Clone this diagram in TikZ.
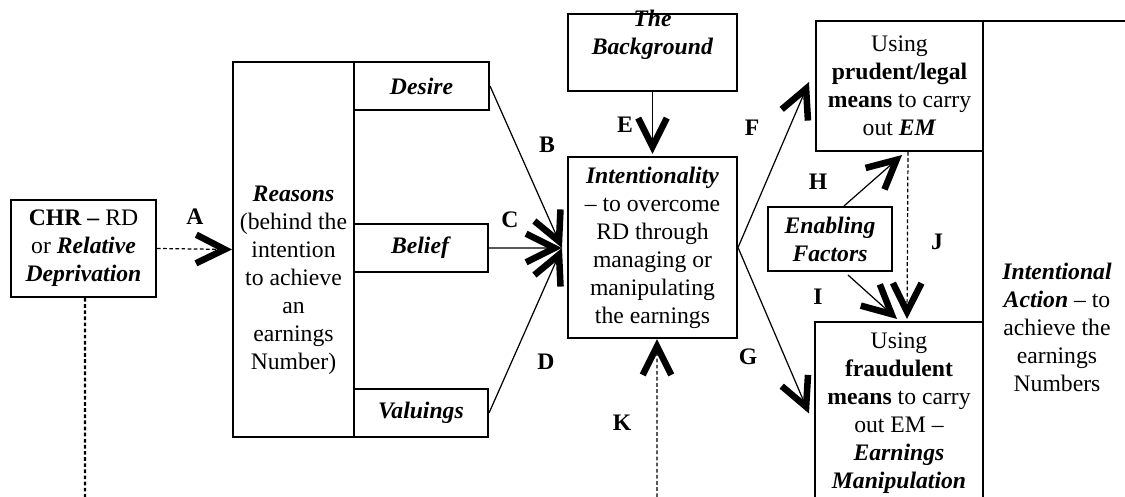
\documentclass[tikz,border=0pt]{standalone}
\usepackage{fontspec}
\setmainfont{Liberation Serif}
\usetikzlibrary{arrows.meta,calc}

\begin{document}
\begin{tikzpicture}[x=0.49pt,y=-0.49pt,
  txt/.style={font=\fontsize{11.6}{13.7}\selectfont},
  box/.style={txt,draw,line width=1pt,inner sep=0pt,align=center},
  plain/.style={txt,inner sep=0pt,align=center},
  sz/.style 2 args={minimum width=#1*0.49pt,minimum height=#2*0.49pt},
  lbl/.style={inner sep=0pt,font=\fontsize{11.6}{13.7}\selectfont\bfseries},
  link/.style={line width=0.6pt,-{Straight Barb[length=14pt,width=14pt,line width=3.2pt,sharp]}},
  dots/.style={line width=1pt,dash pattern=on 1.8pt off 1.2pt},
]
\useasboundingbox (0,0) rectangle (1125,497);
\clip (0,0) rectangle (1125,497);

% boxes
\node[box,sz={145}{97}] (chr) at (83.5,248.5)
  {\textbf{CHR –} RD\\or \textbf{\textit{Relative}}\\\textbf{\textit{Deprivation}}};
\node[box,sz={121}{375}] (reasons) at (293.5,249.5) {};
\node[plain] (reasonstext) at (293.5,280)
  {\textbf{\textit{Reasons}}\\(behind the\\intention\\to achieve\\an\\earnings\\Number)};
\node[box,sz={135}{48}] (desire) at (421.5,86) {\textbf{\textit{Desire}}};
\node[box,sz={134}{48}] (belief) at (421,248) {\textbf{\textit{Belief}}};
\node[box,sz={134}{48}] (valuings) at (421,413) {\textbf{\textit{Valuings}}};
\node[box,sz={169}{77}] (bgbox) at (652.5,52.5) {};
\node[plain] (bgtext) at (652.5,35) {\textbf{\textit{The}}\\\textbf{\textit{Background}}};
\node[box,sz={169}{181}] (intent) at (652.5,247.5)
  {\textbf{\textit{Intentionality}}\\– to overcome\\RD through\\managing or\\manipulating\\the earnings};
\node[box,sz={148}{613}] (action) at (1057,327.5)
  {\textbf{\textit{Intentional}}\\\textbf{\textit{Action}} – to\\achieve the\\earnings\\Numbers};
\node[box,sz={167}{130}] (prudent) at (899.5,86)
  {Using\\\textbf{prudent/legal}\\\textbf{means} to carry\\out \textbf{\textit{EM}}};
\node[box,sz={168}{183}] (fraud) at (899,413.5)
  {Using\\\textbf{fraudulent}\\\textbf{means} to carry\\out EM –\\\textbf{\textit{Earnings}}\\\textbf{\textit{Manipulation}}};
\node[box,sz={124}{64}] (enabling) at (830,239)
  {\textbf{\textit{Enabling}}\\\textbf{\textit{Factors}}};

% free ends of the dotted lines
\coordinate (chrfoot) at (85,497);
\coordinate (kfoot) at (657,497);
\coordinate (conv) at ($(intent.west)+(-5,0.5)$);

% connectors
\draw[dots,link] (chr.east) -- (reasons.west);
\draw[dots] ($(chr.south)+(1.5,0)$) -- (chrfoot);
\draw[link] (desire.east) -- (conv);
\draw[link] (belief.east) -- (conv);
\draw[link] (valuings.east) -- (conv);
\draw[link] (bgbox.south) -- ($(intent.north)+(0,-2)$);
\draw[link] (intent.east) -- ($(prudent.west)+(-6,-4)$);
\draw[link] (intent.east) -- ($(fraud.west)+(-5,0)$);
\draw[link] ($(enabling.north)+(14,0)$) -- ($(prudent.south)+(2.5,3)$);
\draw[link] ($(enabling.south)+(18,3)$) -- ($(fraud.north)+(-2,-2)$);
\draw[dots,link] ($(prudent.south)+(8.5,0)$) -- ($(fraud.north)+(8,-2)$);
\draw[dots,link] (kfoot) -- ($(intent.south)+(4.5,0)$);

% connector labels
\node[lbl] (la) at (195,217) {A};
\node[lbl] (lb) at (547,145) {B};
\node[lbl] (lc) at (510,220) {C};
\node[lbl] (ld) at (546,362) {D};
\node[lbl] (le) at (625,125) {E};
\node[lbl] (lf) at (752,128) {F};
\node[lbl] (lg) at (748,357) {G};
\node[lbl] (lh) at (818,182) {H};
\node[lbl] (li) at (818,297) {I};
\node[lbl] (lj) at (937,242) {J};
\node[lbl] (lk) at (622,423) {K};
\end{tikzpicture}
\end{document}
